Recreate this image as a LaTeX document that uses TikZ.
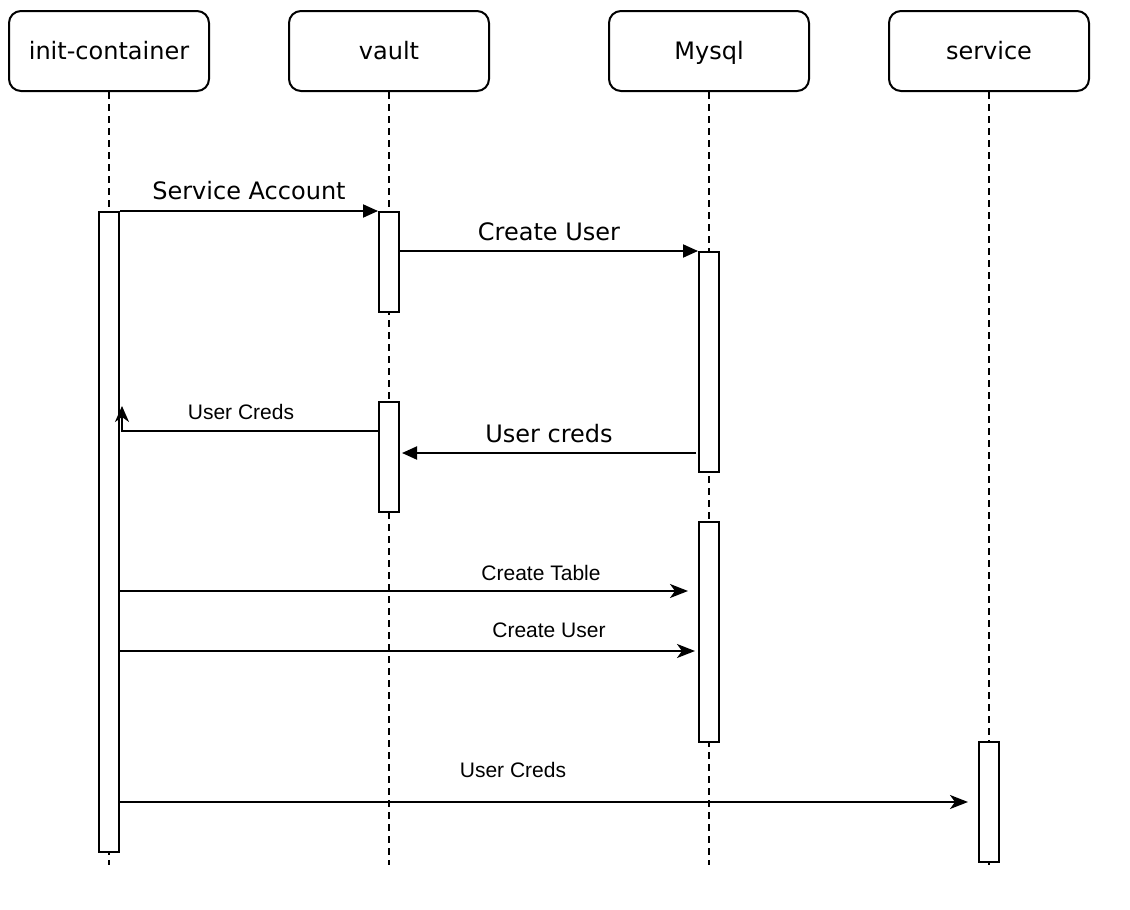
\documentclass[tikz,border=0pt]{standalone}
\usepackage{fontspec}
\setmainfont{DejaVu Sans}
\newfontfamily\arialfont{Liberation Sans}
\usetikzlibrary{arrows.meta}
\begin{document}
\begin{tikzpicture}[x=1pt,y=-1pt,line width=2pt,
  actor/.style={draw,rounded corners=12pt,minimum width=200pt,minimum height=80pt,inner sep=0pt,text height=20pt,text depth=4pt,font=\fontsize{24}{28}\selectfont},
  bar/.style={draw,fill=white,minimum width=20pt,inner sep=0pt,anchor=north},
  life/.style={dash pattern=on 7pt off 5pt},
  big/.style={font=\fontsize{24}{28}\selectfont,anchor=base,inner sep=0pt},
  small/.style={font=\arialfont\fontsize{21}{25}\selectfont,anchor=base,inner sep=0pt},
  blk/.style={-{Triangle[length=15pt,width=13pt]}},
  cls/.style={-{Stealth[length=18pt,width=14pt,inset=5pt]}},
  clsS/.style={-{Stealth[length=16pt,width=14pt,inset=5pt]}}]
\useasboundingbox (0,0) rectangle (1130,910);
% actors
\node[actor] (ic) at (109,51) {init-container};
\node[actor] (va) at (389,51) {vault};
\node[actor] (my) at (709,51) {Mysql};
\node[actor] (sv) at (989,51) {service};
% lifeline ends
\coordinate (icE) at (109,865);
\coordinate (vaE) at (389,865);
\coordinate (myE) at (709,865);
\coordinate (svE) at (989,865);
\draw[life] (ic.south) -- (icE);
\draw[life] (va.south) -- (vaE);
\draw[life] (my.south) -- (myE);
\draw[life] (sv.south) -- (svE);
% activation bars
\node[bar,minimum height=640pt] (ib) at (109,211) {};
\node[bar,minimum height=100pt] (vb1) at (389,211) {};
\node[bar,minimum height=220pt] (mb1) at (709,251) {};
\node[bar,minimum height=110pt] (vb2) at (389,401) {};
\node[bar,minimum height=220pt] (mb2) at (709,521) {};
\node[bar,minimum height=120pt] (sb) at (989,741) {};
% messages
\draw[blk] (ib.north east) -- (vb1.north west);
\node[big] (l1) at (249,199) {Service Account};
\draw[blk] (vb1.east |- mb1.north) -- (mb1.north west);
\node[big] (l2) at (549,240) {Create User};
\coordinate (uc) at (122,406);
\coordinate (ucB) at (122,431);
\draw[clsS] ([yshift=-30pt]vb2.north west) -- (ucB) -- (uc);
\node[small] (l3) at (241,419) {User Creds};
\draw[blk] ([xshift=-2pt,yshift=-202pt]mb1.north west) -- ([xshift=2pt,yshift=-52pt]vb2.north east);
\node[big] (l4) at (549,442) {User creds};
\draw[cls] ([yshift=-380pt]ib.north east) -- ([xshift=-10pt,yshift=-70pt]mb2.north west);
\node[small] (l5) at (541,580) {Create Table};
\draw[cls] ([yshift=-440pt]ib.north east) -- ([xshift=-3pt,yshift=-130pt]mb2.north west);
\node[small] (l6) at (549,637) {Create User};
\draw[cls] ([yshift=-591pt]ib.north east) -- ([xshift=-10pt,yshift=-61pt]sb.north west);
\node[small] (l7) at (513,777) {User Creds};
\end{tikzpicture}
\end{document}
